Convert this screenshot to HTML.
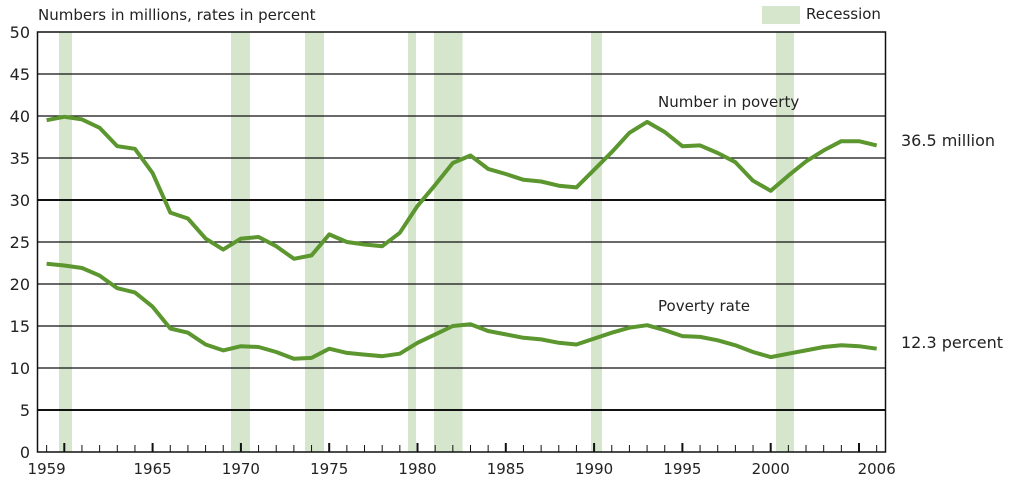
<!DOCTYPE html>
<html><head><meta charset="utf-8"><style>
html,body{margin:0;padding:0;background:#fff;width:1011px;height:485px;overflow:hidden}
svg text{font-family:"DejaVu Sans","Liberation Sans",sans-serif;fill:#222}
</style></head><body>
<svg id="s" width="1011" height="485" viewBox="0 0 1011 485" xmlns="http://www.w3.org/2000/svg">
<g fill="#d6e6cc">
<rect x="59" y="32" width="13" height="420"/>
<rect x="231" y="32" width="19" height="420"/>
<rect x="305" y="32" width="19" height="420"/>
<rect x="408" y="32" width="8" height="420"/>
<rect x="434" y="32" width="28.5" height="420"/>
<rect x="591" y="32" width="11" height="420"/>
<rect x="776" y="32" width="18" height="420"/>
<rect x="762" y="6" width="38" height="18"/>
</g>
<text x="806" y="19" font-size="15">Recession</text>
<text x="38" y="20" font-size="15">Numbers in millions, rates in percent</text>
<g id="grid" stroke="#111"></g>
<g id="ylab" font-size="16" text-anchor="end"></g>
<g id="xt" stroke="#111"></g>
<g id="xl" font-size="15" text-anchor="middle"></g>
<polyline id="p1" fill="none" stroke="#5b962e" stroke-width="4" stroke-linejoin="round"/>
<polyline id="p2" fill="none" stroke="#5b962e" stroke-width="4" stroke-linejoin="round"/>
<text x="658" y="107" font-size="15">Number in poverty</text>
<text x="658" y="311" font-size="15">Poverty rate</text>
<text x="901" y="146" font-size="16">36.5 million</text>
<text x="901" y="348" font-size="16">12.3 percent</text>
</svg>
<script>
var NS="http://www.w3.org/2000/svg";
function el(p,t,a,txt){var e=document.createElementNS(NS,t);for(var k in a)e.setAttribute(k,a[k]);if(txt!=null)e.textContent=txt;document.getElementById(p).appendChild(e);}
for(var v=0;v<=50;v+=5){var y=452-v*8.4;
 if(v>0&&v<50)el("grid","line",{x1:37.5,x2:885.5,y1:y,y2:y,"stroke-width":(v==30||v==5)?2:1.2});
 el("ylab","text",{x:30,y:y+6},String(v));}
el("grid","rect",{x:37.5,y:32,width:848,height:420,fill:"none","stroke-width":1.5});
function X(yr){return 770.7+(yr-2000)*17.66;}
for(var yr=1959;yr<=2006;yr++){var x=X(yr),maj=(yr%5==0);
 el("xt","line",{x1:x,x2:x,y1:452,y2:maj?443:445,"stroke-width":maj?2:1});}
[1959,1965,1970,1975,1980,1985,1990,1995,2000,2006].forEach(function(yr){el("xl","text",{x:X(yr),y:474},String(yr));});
var n=[39.5,39.9,39.6,38.6,36.4,36.1,33.2,28.5,27.8,25.4,24.1,25.4,25.6,24.5,23.0,23.4,25.9,25.0,24.7,24.5,26.1,29.3,31.8,34.4,35.3,33.7,33.1,32.4,32.2,31.7,31.5,33.6,35.7,38.0,39.3,38.1,36.4,36.5,35.6,34.5,32.3,31.1,32.9,34.6,35.9,37.0,37.0,36.5];
var r=[22.4,22.2,21.9,21.0,19.5,19.0,17.3,14.7,14.2,12.8,12.1,12.6,12.5,11.9,11.1,11.2,12.3,11.8,11.6,11.4,11.7,13.0,14.0,15.0,15.2,14.4,14.0,13.6,13.4,13.0,12.8,13.5,14.2,14.8,15.1,14.5,13.8,13.7,13.3,12.7,11.9,11.3,11.7,12.1,12.5,12.7,12.6,12.3];
function pts(a){return a.map(function(v,i){return X(1959+i).toFixed(1)+","+(452-v*8.4).toFixed(1);}).join(" ");}
document.getElementById("p1").setAttribute("points",pts(n));
document.getElementById("p2").setAttribute("points",pts(r));
</script>
</body></html>
